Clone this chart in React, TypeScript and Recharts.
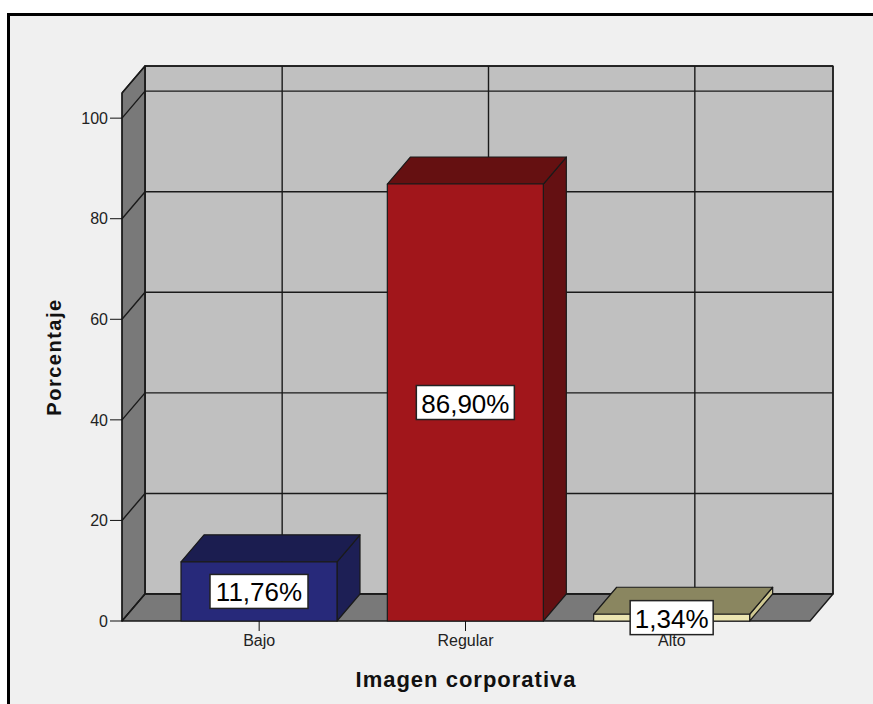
import React from "react";
import {
  BarChart,
  Bar,
  XAxis,
  YAxis,
  CartesianGrid,
  ReferenceArea,
  LabelList,
} from "recharts";

// Imagen corporativa — SPSS style 3D bar chart
const categories = ["Bajo", "Regular", "Alto"];
const percentages = [11.76, 86.9, 1.34];
const yTicks = [0, 20, 40, 60, 80, 100];
const yMax = 105;

// face colours per bar: front / top / right side
const FRONT = ["#27297a", "#a1161b", "#ece5b1"];
const TOP = ["#1b1d50", "#651011", "#8a8660"];
const SIDE = ["#1d1f55", "#641012", "#cfc892"];

const DX = 23; // depth offset
const DY = 27;
const FONT = "'Liberation Sans', Arial, Helvetica, sans-serif";
const EDGE = "#1a1a1a";

const data = categories.map((name, i) => ({ name, pct: percentages[i], idx: i }));

// back wall, left wall and floor
function Walls(props: any) {
  const { x, y, width, height } = props;
  const b = y + height;
  return (
    <g stroke={EDGE} strokeWidth={1.4} strokeLinejoin="round">
      <rect x={x + DX} y={y - DY} width={width} height={height} fill="#c0c0c0" />
      <polygon
        points={`${x},${y} ${x + DX},${y - DY} ${x + DX},${b - DY} ${x},${b}`}
        fill="#797979"
      />
      <polygon
        points={`${x},${b} ${x + DX},${b - DY} ${x + width + DX},${b - DY} ${x + width},${b}`}
        fill="#797979"
      />
    </g>
  );
}

function HLine(p: any) {
  return (
    <polyline
      key={p.key}
      points={`${p.x1},${p.y1} ${p.x1 + DX},${p.y1 - DY} ${p.x2 + DX},${p.y2 - DY}`}
      fill="none"
      stroke={EDGE}
      strokeWidth={1.4}
    />
  );
}

function VLine(p: any) {
  return (
    <line
      key={p.key}
      x1={p.x1 + DX}
      y1={p.y1 - DY}
      x2={p.x2 + DX}
      y2={p.y2 - DY}
      stroke={EDGE}
      strokeWidth={1.4}
    />
  );
}

function Box3D(props: any) {
  const { x, y, width: w, height: h, payload } = props;
  const i = payload?.idx ?? 0;
  return (
    <g stroke={EDGE} strokeWidth={1.2} strokeLinejoin="round">
      <polygon
        points={`${x + w},${y} ${x + w + DX},${y - DY} ${x + w + DX},${y + h - DY} ${x + w},${y + h}`}
        fill={SIDE[i]}
      />
      <polygon
        points={`${x},${y} ${x + DX},${y - DY} ${x + w + DX},${y - DY} ${x + w},${y}`}
        fill={TOP[i]}
      />
      <rect x={x} y={y} width={w} height={h} fill={FRONT[i]} />
    </g>
  );
}

function ValueTag(props: any) {
  const { x, y, width, height, value } = props;
  const text = `${Number(value).toFixed(2).replace(".", ",")}%`;
  const cx = x + width / 2;
  const cy = y + height / 2;
  const w = 8 + text.length * 15;
  const h = 34;
  return (
    <g>
      <rect x={cx - w / 2} y={cy - h / 2} width={w} height={h} fill="#fff" stroke="#222" strokeWidth={1.5} />
      <text
        x={cx}
        y={cy + 1}
        textAnchor="middle"
        dominantBaseline="central"
        fontSize={26}
        fontFamily={FONT}
        fill="#000"
      >
        {text}
      </text>
    </g>
  );
}

export default function App() {
  return (
    <div
      style={{
        position: "fixed",
        left: 0,
        top: 0,
        width: 873,
        height: 704,
        overflow: "hidden",
        background: "#fff",
      }}
    >
      <div
        style={{
          position: "absolute",
          left: 7,
          top: 13,
          width: 900,
          height: 800,
          borderTop: "3px solid #000",
          borderLeft: "3px solid #000",
          background: "#f0f0f0",
        }}
      />
      <div style={{ position: "absolute", left: 0, top: 0 }}>
        <BarChart
          width={873}
          height={704}
          data={data}
          margin={{ top: 93, right: 63, bottom: 13, left: 42 }}
        >
          {/* hidden numeric axis spanning the whole plot, used for the walls */}
          <XAxis xAxisId="full" type="number" hide />
          <ReferenceArea
            xAxisId="full"
            y1={0}
            y2={yMax}
            shape={Walls}
            ifOverflow="visible"
            zIndex={-200}
          />
          <CartesianGrid horizontal={HLine} vertical={VLine} />
          <XAxis
            dataKey="name"
            padding={{ left: 34, right: 35 }}
            height={70}
            interval={0}
            axisLine={false}
            tickSize={10}
            tickMargin={4}
            tickLine={{ stroke: "#111" }}
            tick={{ fontSize: 16, fill: "#222", fontFamily: FONT }}
            label={{
              value: "Imagen corporativa",
              position: "insideBottom",
              offset: 4,
              fontSize: 22,
              fontWeight: "bold",
              fill: "#111",
              fontFamily: FONT,
              letterSpacing: 1,
            }}
          />
          <YAxis
            type="number"
            domain={[0, yMax]}
            ticks={yTicks}
            width={80}
            tickSize={12}
            tickMargin={2}
            axisLine={{ stroke: "#111" }}
            tickLine={{ stroke: "#111" }}
            tick={{ fontSize: 16, fill: "#222", fontFamily: FONT }}
            label={{
              value: "Porcentaje",
              angle: -90,
              position: "insideLeft",
              offset: 12,
              fontSize: 20,
              fontWeight: "bold",
              fill: "#111",
              fontFamily: FONT,
              letterSpacing: 1.5,
              style: { textAnchor: "middle" },
            }}
          />
          <Bar dataKey="pct" barSize={156} shape={Box3D} isAnimationActive={false}>
            <LabelList dataKey="pct" content={ValueTag} />
          </Bar>
        </BarChart>
      </div>
    </div>
  );
}
